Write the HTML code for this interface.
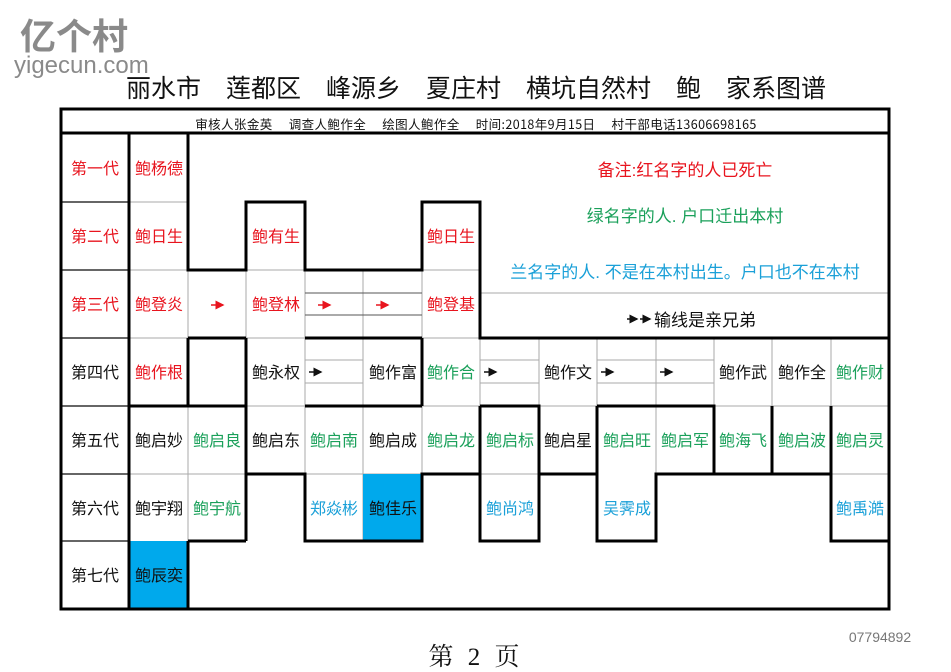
<!DOCTYPE html>
<html><head><meta charset="utf-8"><style>
html,body{margin:0;padding:0;background:#fff;}
svg{display:block;font-family:"Liberation Sans","Noto Sans CJK SC",sans-serif;}
</style></head><body>
<svg width="951" height="672" viewBox="0 0 951 672" xmlns="http://www.w3.org/2000/svg">
<defs>
<marker id="ah" markerWidth="6" markerHeight="6" refX="5" refY="3" orient="auto"><path d="M0,0 L6,3 L0,6 z" fill="context-stroke"/></marker>
</defs>
<text x="20" y="49" font-size="36" font-weight="bold" fill="#8a8a8a">亿个村</text>
<text x="14" y="73" font-size="24" fill="#8a8a8a">yigecun.com</text>
<text x="476" y="97" font-size="25" text-anchor="middle" fill="#111" font-family="'Noto Sans CJK SC',sans-serif">丽水市　莲都区　峰源乡　夏庄村　横坑自然村　鲍　家系图谱</text>
<text x="476" y="129" font-size="12.5" text-anchor="middle" fill="#111" letter-spacing="0.4" font-family="'Noto Sans CJK SC',sans-serif">审核人张金英　 调查人鲍作全　 绘图人鲍作全　 时间:2018年9月15日　 村干部电话13606698165</text>

<g fill="none" stroke="#aaa" stroke-width="1">
<rect x="129" y="133" width="59" height="69"/>
<rect x="129" y="202" width="59" height="68"/><rect x="246" y="202" width="59" height="68"/><rect x="422" y="202" width="58" height="68"/>
<rect x="129" y="270" width="59" height="68"/><rect x="188" y="270" width="58" height="68"/><rect x="246" y="270" width="59" height="68"/><rect x="305" y="270" width="58" height="68"/><rect x="363" y="270" width="59" height="68"/><rect x="422" y="270" width="58" height="68"/>
<line x1="480" y1="293" x2="889" y2="293"/>
<line x1="305" y1="293" x2="422" y2="293" stroke="#555"/><line x1="305" y1="315" x2="422" y2="315" stroke="#555"/>
<path d="M129 338H889M129 406H889M188 338V474M246 338V474M305 338V474M363 338V541M422 338V474M480 338V474M539 338V474M597 338V474M656 338V474M714 338V474M772 338V474M831 338V474"/>
<path d="M305 360H363M305 383H363M480 360H539M480 383H539M597 360H714M597 383H714"/>
<path d="M129 474H246M188 474V541M305 474H422M480 474H539M831 474H889"/>
</g>
<g stroke="#333" stroke-width="1.5" fill="none">
<path d="M61 202H129M61 270H129M61 338H129M61 406H129M61 474H129M61 541H129"/>
</g>
<rect x="363" y="474" width="59" height="67" fill="#00a9ec"/>
<rect x="129" y="541" width="59" height="68" fill="#00a9ec"/>

<g stroke="#000" stroke-width="3" fill="none">
<rect x="61" y="109" width="828" height="500"/>
<line x1="61" y1="133" x2="889" y2="133"/>
<line x1="129" y1="133" x2="129" y2="609"/>
<path d="M188 133V270H246V202H305V270H422V202H480V338H889"/>
<path d="M188 338H246M305 338H422M188 338V406M246 338V541M422 338V406M129 406H246M305 406H422"/>
<path d="M246 474H305V541H422V474H480M480 406V541H539V406H480M539 474H597M597 406V541H656V474H831M597 406H714V474M772 406V474M831 406V541H889"/>
<path d="M188 541H246M188 541V609"/>
</g>

<g stroke-width="1.5" marker-end="url(#ah)">
<line x1="211" y1="305" x2="223" y2="305" stroke="#e8141e"/>
<line x1="318" y1="305" x2="330" y2="305" stroke="#e8141e"/>
<line x1="376" y1="305" x2="388" y2="305" stroke="#e8141e"/>
<line x1="309" y1="372" x2="321" y2="372" stroke="#111"/>
<line x1="484" y1="372" x2="496" y2="372" stroke="#111"/>
<line x1="601" y1="372" x2="613" y2="372" stroke="#111"/>
<line x1="660" y1="372" x2="672" y2="372" stroke="#111"/>
<line x1="627" y1="319" x2="637" y2="319" stroke="#111"/>
<line x1="640" y1="319" x2="650" y2="319" stroke="#111"/>
</g>

<g font-size="17" text-anchor="middle">
<text x="685" y="176" fill="#e8141e">备注:红名字的人已死亡</text>
<text x="685" y="222" fill="#1aa05a">绿名字的人. 户口迁出本村</text>
<text x="685" y="278" fill="#1aa0d8">兰名字的人. 不是在本村出生。户口也不在本村</text>
<text x="705" y="326" fill="#111">输线是亲兄弟</text>
</g>

<g font-size="16" text-anchor="middle">
<text x="95" y="174" fill="#e8141e">第一代</text>
<text x="95" y="242" fill="#e8141e">第二代</text>
<text x="95" y="310" fill="#e8141e">第三代</text>
<text x="95" y="378" fill="#111">第四代</text>
<text x="95" y="446" fill="#111">第五代</text>
<text x="95" y="514" fill="#111">第六代</text>
<text x="95" y="581" fill="#111">第七代</text>
<text x="159" y="174" fill="#e8141e">鲍杨德</text>
<text x="159" y="242" fill="#e8141e">鲍日生</text>
<text x="276" y="242" fill="#e8141e">鲍有生</text>
<text x="451" y="242" fill="#e8141e">鲍日生</text>
<text x="159" y="310" fill="#e8141e">鲍登炎</text>
<text x="276" y="310" fill="#e8141e">鲍登林</text>
<text x="451" y="310" fill="#e8141e">鲍登基</text>
<text x="159" y="378" fill="#e8141e">鲍作根</text>
<text x="276" y="378" fill="#111">鲍永权</text>
<text x="393" y="378" fill="#111">鲍作富</text>
<text x="451" y="378" fill="#1aa05a">鲍作合</text>
<text x="568" y="378" fill="#111">鲍作文</text>
<text x="743" y="378" fill="#111">鲍作武</text>
<text x="802" y="378" fill="#111">鲍作全</text>
<text x="860" y="378" fill="#1aa05a">鲍作财</text>
<text x="159" y="446" fill="#111">鲍启妙</text>
<text x="217" y="446" fill="#1aa05a">鲍启良</text>
<text x="276" y="446" fill="#111">鲍启东</text>
<text x="334" y="446" fill="#1aa05a">鲍启南</text>
<text x="393" y="446" fill="#111">鲍启成</text>
<text x="451" y="446" fill="#1aa05a">鲍启龙</text>
<text x="510" y="446" fill="#1aa05a">鲍启标</text>
<text x="568" y="446" fill="#111">鲍启星</text>
<text x="627" y="446" fill="#1aa05a">鲍启旺</text>
<text x="685" y="446" fill="#1aa05a">鲍启军</text>
<text x="743" y="446" fill="#1aa05a">鲍海飞</text>
<text x="802" y="446" fill="#1aa05a">鲍启波</text>
<text x="860" y="446" fill="#1aa05a">鲍启灵</text>
<text x="159" y="514" fill="#111">鲍宇翔</text>
<text x="217" y="514" fill="#1aa05a">鲍宇航</text>
<text x="334" y="514" fill="#1aa0d8">郑焱彬</text>
<text x="393" y="514" fill="#111">鲍佳乐</text>
<text x="510" y="514" fill="#1aa0d8">鲍尚鸿</text>
<text x="627" y="514" fill="#1aa0d8">吴霁成</text>
<text x="860" y="514" fill="#1aa0d8">鲍禹澔</text>
<text x="159" y="581" fill="#111">鲍辰奕</text>
</g>

<text x="880" y="642" font-size="14" text-anchor="middle" fill="#777">07794892</text>
<text x="476" y="665" font-size="25" text-anchor="middle" fill="#111" letter-spacing="4" font-family="'Liberation Serif','Noto Serif CJK SC',serif">第 2 页</text>
</svg>
</body></html>
